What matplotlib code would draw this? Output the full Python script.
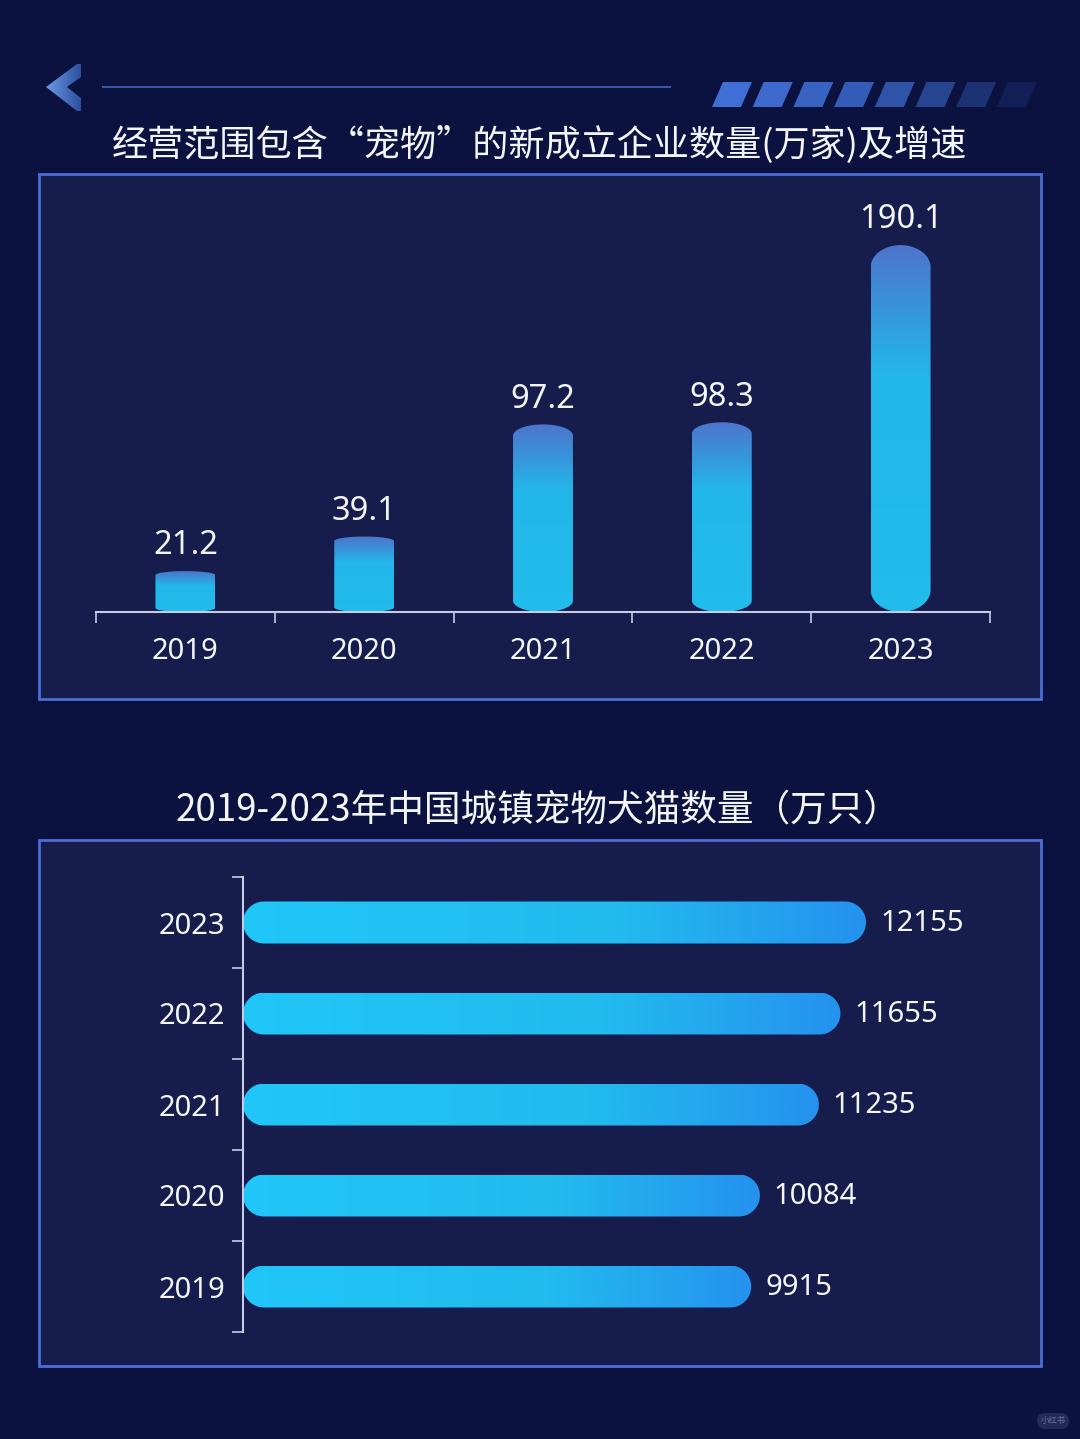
import numpy as np
import matplotlib
matplotlib.use('Agg')
import matplotlib.pyplot as plt
from matplotlib.patches import Rectangle, Polygon, PathPatch, FancyBboxPatch
from matplotlib.path import Path
from matplotlib.colors import to_rgb

plt.rcParams['font.family'] = ['Noto Sans', 'Noto Sans CJK SC', 'DejaVu Sans']

# data
years = ['2019', '2020', '2021', '2022', '2023']
new_firms = [21.2, 39.1, 97.2, 98.3, 190.1]       # 万家
pet_counts = [9915, 10084, 11235, 11655, 12155]   # 万只

title_top = '经营范围包含“宠物”的新成立企业数量(万家)及增速'
title_bottom = '2019-2023年中国城镇宠物犬猫数量（万只）'

W, H = 1080, 1439
fig = plt.figure(figsize=(W / 100, H / 100), dpi=100)
fig.patch.set_facecolor('#0b1240')

AXIS_C = '#c5cde6'
TXT_C = '#f4f6fc'


def fx(px):
    return px / W


def fy(py):
    return 1 - py / H


def gradient(colors, stops, n=256):
    pos = np.linspace(0, 1, n)
    rgb = np.array([to_rgb(c) for c in colors])
    return np.stack([np.interp(pos, stops, rgb[:, k]) for k in range(3)], axis=-1)


def rounded_path(x0, x1, y0, y1, rx, ry, n=20):
    # rectangle with elliptical corners (radii in data units)
    t = np.linspace(0, np.pi / 2, n)
    corners = [(x1 - rx, y1 - ry, 0), (x0 + rx, y1 - ry, np.pi / 2),
               (x0 + rx, y0 + ry, np.pi), (x1 - rx, y0 + ry, 1.5 * np.pi)]
    pts = []
    for cx, cy, a0 in corners:
        a = a0 + t
        pts += list(zip(cx + rx * np.cos(a), cy + ry * np.sin(a)))
    pts.append(pts[0])
    return Path(pts, closed=True)


def px_per_unit(ax):
    p0 = ax.transData.transform((0, 0))
    p1 = ax.transData.transform((1, 1))
    return p1[0] - p0[0], p1[1] - p0[1]


# ---- background decoration in pixel coords ----
bg = fig.add_axes([0, 0, 1, 1], zorder=0)
bg.set_xlim(0, W)
bg.set_ylim(H, 0)
bg.axis('off')

for top, bot in [(174, 699), (840, 1366)]:
    bg.add_patch(Rectangle((39, top), 1002, bot - top, facecolor='#161d4c',
                           edgecolor='#4a6ed6', lw=2))

# chevron with a left-to-right fade
chev = Polygon([(46, 87), (77, 64), (81, 64), (81, 77), (67, 87), (81, 98),
                (81, 111), (77, 111)], closed=True, facecolor='none', edgecolor='none')
bg.add_patch(chev)
cim = bg.imshow(gradient(['#6a9ae6', '#2c4f9e'], [0, 1])[None, :, :],
                extent=(46, 81, 111, 64), aspect='auto', zorder=1)
cim.set_clip_path(chev)
bg.set_xlim(0, W)
bg.set_ylim(H, 0)
bg.plot([103, 670], [87, 87], color='#3a56a6', lw=1.5)

# slanted stripes
stripe_alpha = [1, 0.95, 0.88, 0.8, 0.7, 0.55, 0.35, 0.15]
for k, a in enumerate(stripe_alpha):
    x = 712 + k * 40.7
    bg.add_patch(Polygon([(x, 107), (x + 29, 107), (x + 40, 82), (x + 11, 82)],
                         closed=True, facecolor='#3f6fd4', edgecolor='none', alpha=a))

bg.text(540, 145, title_top, ha='center', va='center', fontsize=26, color=TXT_C,
        family=['Noto Sans CJK SC', 'DejaVu Sans'])
bg.text(538, 810, title_bottom, ha='center', va='center', fontsize=26.4, color=TXT_C,
        family=['Noto Sans CJK SC', 'DejaVu Sans'])

# watermark
bg.add_patch(FancyBboxPatch((1037, 1413), 32, 16, boxstyle='round,pad=0,rounding_size=8',
                            facecolor='#2a3160', edgecolor='none', alpha=0.8))
bg.text(1053, 1421, '小红书', ha='center', va='center', fontsize=6, color='#6b7399',
        family=['Noto Sans CJK SC'])

# ---- top chart: vertical bars ----
ax1 = fig.add_axes([fx(96), fy(612), fx(990 - 96), (612 - 200) / H], zorder=2)
ax1.patch.set_alpha(0)
ax1.set_xlim(-0.5, 4.5)
ax1.set_ylim(0, 412 / 1.93)
ppx, ppy = px_per_unit(ax1)

vgrad = gradient(['#4d74cb', '#23b6ea', '#21bdec'], [0, 0.35, 1])[:, None, :]
bw = 0.335
for i, v in enumerate(new_firms):
    x0, x1 = i - bw / 2, i + bw / 2
    h_px = v * ppy
    ry = max(4, 0.06 * h_px) / ppy
    path = rounded_path(x0, x1, 0, v, bw / 2, ry)
    patch = PathPatch(path, facecolor='none', edgecolor='none')
    ax1.add_patch(patch)
    im = ax1.imshow(vgrad, extent=(x0, x1, 0, v), origin='upper', aspect='auto',
                    interpolation='bilinear', zorder=2)
    im.set_clip_path(patch)
    ax1.annotate(f'{v}', (i, v), xytext=(0, 12), textcoords='offset points',
                 ha='center', va='baseline', fontsize=23.5, color=TXT_C)

ax1.set_xlim(-0.5, 4.5)
ax1.set_ylim(0, 412 / 1.93)
for s in ['top', 'left', 'right']:
    ax1.spines[s].set_visible(False)
ax1.spines['bottom'].set_color(AXIS_C)
ax1.spines['bottom'].set_linewidth(1.5)
ax1.set_yticks([])
ax1.set_xticks(np.arange(-0.5, 5, 1))
ax1.set_xticklabels([])
ax1.set_xticks(range(5), minor=True)
ax1.set_xticklabels(years, minor=True)
ax1.tick_params(axis='x', which='major', length=8, width=1.2, color=AXIS_C, direction='out')
ax1.tick_params(axis='x', which='minor', length=0, pad=18, labelsize=21, labelcolor=TXT_C)

# ---- bottom chart: horizontal bars ----
ax2 = fig.add_axes([fx(243), fy(1332), fx(1000 - 243), (1332 - 877) / H], zorder=2)
ax2.patch.set_alpha(0)
ax2.set_xlim(0, 757 / 0.05126)
ax2.set_ylim(-0.5, 4.5)
ppx, ppy = px_per_unit(ax2)

hgrad = gradient(['#20c7f8', '#22bbee', '#2592ee'], [0, 0.6, 1])[None, :, :]
bh = 42 / ppy
for i, v in enumerate(pet_counts):
    y0, y1 = i - bh / 2, i + bh / 2
    rx = 21 / ppx
    path = rounded_path(0, v, y0, y1, rx, bh / 2)
    patch = PathPatch(path, facecolor='none', edgecolor='none')
    ax2.add_patch(patch)
    im = ax2.imshow(hgrad, extent=(0, v, y0, y1), origin='upper', aspect='auto',
                    interpolation='bilinear', zorder=2)
    im.set_clip_path(patch)
    ax2.annotate(f'{v}', (v, i), xytext=(10, -1), textcoords='offset points',
                 ha='left', va='center', fontsize=21, color=TXT_C)

ax2.set_xlim(0, 757 / 0.05126)
ax2.set_ylim(-0.5, 4.5)
for s in ['top', 'bottom', 'right']:
    ax2.spines[s].set_visible(False)
ax2.spines['left'].set_color(AXIS_C)
ax2.spines['left'].set_linewidth(1.5)
ax2.set_xticks([])
ax2.set_yticks(np.arange(-0.5, 5, 1))
ax2.set_yticklabels([])
ax2.set_yticks(range(5), minor=True)
ax2.set_yticklabels(years, minor=True)
ax2.tick_params(axis='y', which='major', length=8, width=1.2, color=AXIS_C, direction='out')
ax2.tick_params(axis='y', which='minor', length=0, pad=13, labelsize=21, labelcolor=TXT_C)

fig.savefig('out.png', dpi=100, facecolor=fig.get_facecolor())
